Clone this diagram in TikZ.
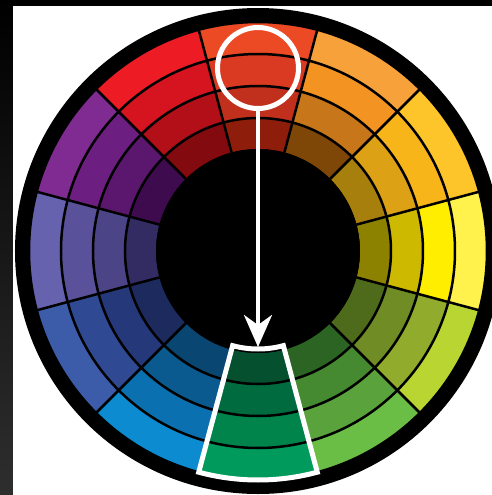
\documentclass[tikz,border=0pt]{standalone}
\usetikzlibrary{arrows.meta}
% ring colours, 1 = outer ... 4 = inner
\definecolor{ro1}{HTML}{EB4A24}\definecolor{ro2}{HTML}{D93A21}\definecolor{ro3}{HTML}{C0301C}\definecolor{ro4}{HTML}{8E1D0C}
\definecolor{or1}{HTML}{F7A13A}\definecolor{or2}{HTML}{F29322}\definecolor{or3}{HTML}{C8761A}\definecolor{or4}{HTML}{7E4708}
\definecolor{yo1}{HTML}{FDC52A}\definecolor{yo2}{HTML}{F8B51A}\definecolor{yo3}{HTML}{DCA114}\definecolor{yo4}{HTML}{A77F0C}
\definecolor{ye1}{HTML}{FFF24C}\definecolor{ye2}{HTML}{FFEE00}\definecolor{ye3}{HTML}{CDB900}\definecolor{ye4}{HTML}{8D8100}
\definecolor{yg1}{HTML}{B9D531}\definecolor{yg2}{HTML}{91AC2C}\definecolor{yg3}{HTML}{708C25}\definecolor{yg4}{HTML}{4E6B1C}
\definecolor{gr1}{HTML}{6BBE45}\definecolor{gr2}{HTML}{5AA23B}\definecolor{gr3}{HTML}{458A30}\definecolor{gr4}{HTML}{2C6424}
\definecolor{gg1}{HTML}{009B5C}\definecolor{gg2}{HTML}{00844C}\definecolor{gg3}{HTML}{006B3E}\definecolor{gg4}{HTML}{04502F}
\definecolor{bl1}{HTML}{0D8BD0}\definecolor{bl2}{HTML}{0B70AF}\definecolor{bl3}{HTML}{0A5A8F}\definecolor{bl4}{HTML}{094671}
\definecolor{bv1}{HTML}{3C5CAA}\definecolor{bv2}{HTML}{2F4A93}\definecolor{bv3}{HTML}{25397A}\definecolor{bv4}{HTML}{1C2A5E}
\definecolor{vi1}{HTML}{6662AD}\definecolor{vi2}{HTML}{59529B}\definecolor{vi3}{HTML}{4B4587}\definecolor{vi4}{HTML}{332C63}
\definecolor{pu1}{HTML}{7F2B91}\definecolor{pu2}{HTML}{6D1F81}\definecolor{pu3}{HTML}{5A176D}\definecolor{pu4}{HTML}{3E0B4F}
\definecolor{re1}{HTML}{ED1C24}\definecolor{re2}{HTML}{D6141F}\definecolor{re3}{HTML}{B20F19}\definecolor{re4}{HTML}{830A0E}
\begin{document}
\begin{tikzpicture}[x=.5pt, y=.5pt, grid/.style={draw=black, line width=1.25pt},
  pick/.style={draw=white, line width=2.5pt}]
\useasboundingbox (-258,-244) rectangle (234,251);
\fill[white] (-258,-244) rectangle (234,251);
\shade[top color=black, middle color=black, bottom color=black!82!white] (-258,-244) rectangle (-245,251);
\fill[black] (-258,245) rectangle (234,251);
\fill[black] (0,0) circle (243);
\foreach \a/\h in {90/ro, 60/or, 30/yo, 0/ye, -30/yg, -60/gr, -90/gg, -120/bl, -150/bv, 180/vi, 150/pu, 120/re}
  \foreach \i/\ri/\ro in {1/197/229, 2/165/197, 3/133/165, 4/102/133}
    \fill[\h\i] (\a-15:\ri) arc[start angle=\a-15, end angle=\a+15, radius=\ri]
      -- (\a+15:\ro) arc[start angle=\a+15, end angle=\a-15, radius=\ro] -- cycle;
\foreach \r in {133,165,197,229} \draw[grid] (0,0) circle (\r);
\foreach \a in {15,45,...,345} \draw[grid] (\a:102) -- (\a:229);
\fill[black] (0,0) circle (102);
% complement sector
\draw[pick, line join=miter] (-105:98) arc[start angle=-105, end angle=-75, radius=98]
  -- (-75:229) arc[start angle=-75, end angle=-105, radius=229] -- cycle;
\node[pick, circle, minimum size=40.5pt, inner sep=0pt] (lens) at (0,183) {};
\coordinate (target) at (0,-96);
\draw[draw=white, line width=2pt, -{Stealth[length=16pt, width=14pt, inset=5pt]}, white] (lens) -- (target);
\end{tikzpicture}
\end{document}
